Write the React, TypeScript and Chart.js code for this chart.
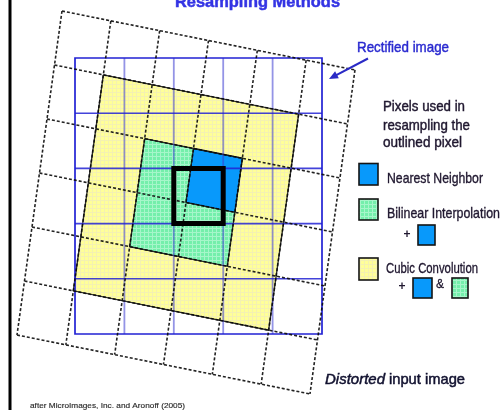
import React, { useEffect, useRef } from "react";
import { Chart, registerables } from "chart.js";

Chart.register(...registerables);

// ---------------- data ----------------
const titleText = "Resampling Methods";
const rectifiedLabel = "Rectified image";
const distortedWord = "Distorted";
const distortedRest = "input image";
const legendHeading = ["Pixels used in", "resampling the", "outlined pixel"];
const methodNames = ["Nearest Neighbor", "Bilinear Interpolation", "Cubic Convolution"];
const creditText = "after MicroImages, Inc. and Aronoff (2005)";

const rectifiedCols = 5;
const rectifiedRows = 5;
const inputCols = 6;
const inputRows = 6;
// cell ranges in the distorted input grid: [col0, row0, col1, row1]
const cubicCells = [1, 1, 5, 5];
const bilinearCells = [2, 2, 4, 4];
const nearestCells = [3, 2, 4, 3];
// outlined output pixel in the rectified grid: [col, row]
const outlinedPixel = [2, 2];

// ---------------- layout ----------------
const W = 501;
const H = 410;
const RX0 = 75;
const RY0 = 58;
const RCW = 49.4;
const RCH = 55.2;
const X_MIN = -RX0 / RCW;
const X_MAX = (W - RX0) / RCW;
const Y_MIN = -RY0 / RCH;
const Y_MAX = (H - RY0) / RCH;
// distorted grid geometry, in rectified-cell units
const D_ORIGIN = [(62 - RX0) / RCW, (11 - RY0) / RCH];
const D_U = [48.83 / RCW, 9.83 / RCH];
const D_V = [-7.5 / RCW, 54 / RCH];

const GAP = { x: NaN, y: NaN };

function dp(i: number, j: number) {
  return {
    x: D_ORIGIN[0] + i * D_U[0] + j * D_V[0],
    y: D_ORIGIN[1] + i * D_U[1] + j * D_V[1],
  };
}

function cellPolygon(c: number[]) {
  return [dp(c[0], c[1]), dp(c[2], c[1]), dp(c[2], c[3]), dp(c[0], c[3]), dp(c[0], c[1])];
}

function makePattern(base: string, line: string) {
  const c = document.createElement("canvas");
  c.width = 4;
  c.height = 4;
  const g = c.getContext("2d")!;
  g.fillStyle = base;
  g.fillRect(0, 0, 4, 4);
  g.fillStyle = line;
  g.fillRect(0, 0, 4, 1);
  g.fillRect(0, 0, 1, 4);
  return g.createPattern(c, "repeat")!;
}

const FONT = '"Liberation Sans", Arial, sans-serif';

function fitText(
  ctx: CanvasRenderingContext2D,
  text: string,
  x: number,
  y: number,
  width: number,
  font: string,
  color: string,
  heavy = 0
) {
  ctx.save();
  ctx.font = font;
  ctx.fillStyle = color;
  ctx.strokeStyle = color;
  ctx.textAlign = "left";
  ctx.textBaseline = "alphabetic";
  const w = ctx.measureText(text).width || 1;
  ctx.translate(x, y);
  ctx.scale(width / w, 1);
  ctx.fillText(text, 0, 0);
  if (heavy > 0) {
    ctx.lineWidth = heavy;
    ctx.strokeText(text, 0, 0);
  }
  ctx.restore();
}

export default function App() {
  const ref = useRef<HTMLCanvasElement | null>(null);

  useEffect(() => {
    const canvas = ref.current;
    if (!canvas) return;

    const blue = "#0899fb";
    const yellowPat = makePattern("#ffff98", "#f4f1b2");
    const greenPat = makePattern("#74efab", "#a6f6ca");

    // rectified grid lines
    const rectV: any[] = [];
    for (let i = 1; i < rectifiedCols; i++) {
      rectV.push({ x: i, y: 0 }, { x: i, y: rectifiedRows }, GAP);
    }
    const rectH: any[] = [];
    for (let j = 1; j < rectifiedRows; j++) {
      rectH.push({ x: 0, y: j }, { x: rectifiedCols, y: j }, GAP);
    }
    const rectBorder = [
      { x: 0, y: 0 },
      { x: rectifiedCols, y: 0 },
      { x: rectifiedCols, y: rectifiedRows },
      { x: 0, y: rectifiedRows },
      { x: 0, y: 0 },
    ];
    // distorted grid lines
    const distLines: any[] = [];
    for (let i = 0; i <= inputCols; i++) distLines.push(dp(i, 0), dp(i, inputRows), GAP);
    for (let j = 0; j <= inputRows; j++) distLines.push(dp(0, j), dp(inputCols, j), GAP);

    const [pc, pr] = outlinedPixel;
    const square = [
      { x: pc, y: pr },
      { x: pc + 1, y: pr },
      { x: pc + 1, y: pr + 1 },
      { x: pc, y: pr + 1 },
      { x: pc, y: pr },
    ];

    const polyBorder = "rgba(20,20,20,0.9)";

    const overlay = {
      id: "overlay",
      beforeDraw(chart: any) {
        const ctx = chart.ctx;
        ctx.save();
        ctx.fillStyle = "#ffffff";
        ctx.fillRect(0, 0, chart.width, chart.height);
        ctx.restore();
      },
      afterDraw(chart: any) {
        const ctx: CanvasRenderingContext2D = chart.ctx;
        // left rule
        ctx.save();
        ctx.fillStyle = "#000";
        ctx.fillRect(8.5, 0, 3, H);
        ctx.restore();

        // title
        fitText(ctx, titleText, 175, 6.5, 165, `bold 17px ${FONT}`, "#3434e4", 0.5);

        // rectified label + arrow
        fitText(ctx, rectifiedLabel, 357, 52, 92, `15px ${FONT}`, "#2a2ad0", 0.45);
        ctx.save();
        ctx.strokeStyle = "#2a2ac6";
        ctx.fillStyle = "#2a2ac6";
        ctx.lineWidth = 2;
        const ax0 = 368, ay0 = 58.5, ax1 = 329, ay1 = 79;
        const ang = Math.atan2(ay1 - ay0, ax1 - ax0);
        ctx.beginPath();
        ctx.moveTo(ax0, ay0);
        ctx.lineTo(ax1 - 5 * Math.cos(ang), ay1 - 5 * Math.sin(ang));
        ctx.stroke();
        ctx.beginPath();
        ctx.moveTo(ax1, ay1);
        ctx.lineTo(ax1 - 9 * Math.cos(ang) + 4 * Math.sin(ang), ay1 - 9 * Math.sin(ang) - 4 * Math.cos(ang));
        ctx.lineTo(ax1 - 9 * Math.cos(ang) - 4 * Math.sin(ang), ay1 - 9 * Math.sin(ang) + 4 * Math.cos(ang));
        ctx.closePath();
        ctx.fill();
        ctx.restore();

        // legend heading
        const dark = "#201830";
        const headBase = [111, 129.5, 147];
        const headW = [82, 87, 79];
        legendHeading.forEach((t, k) =>
          fitText(ctx, t, 383, headBase[k], headW[k], `15px ${FONT}`, dark, 0.45)
        );

        // legend entries
        const labBase = [182.5, 217.5, 273];
        const labX = [387, 387, 386];
        const labW = [96, 113, 92];
        methodNames.forEach((t, k) =>
          fitText(ctx, t, labX[k], labBase[k], labW[k], `15px ${FONT}`, dark, 0.35)
        );

        const swatch = (x: number, y: number, w: number, h: number, fill: any) => {
          ctx.save();
          ctx.fillStyle = fill;
          ctx.fillRect(x, y, w, h);
          ctx.strokeStyle = "#151515";
          ctx.lineWidth = 1.6;
          ctx.strokeRect(x, y, w, h);
          ctx.restore();
        };
        swatch(359, 163.5, 19, 21.5, blue);
        swatch(359, 199, 19, 21, greenPat);
        swatch(418, 225, 17, 20, blue);
        swatch(359, 258, 19, 22, yellowPat);
        swatch(413, 278, 19, 20, blue);
        swatch(452, 278, 16, 20, greenPat);

        ctx.save();
        ctx.fillStyle = dark;
        ctx.font = `bold 12px ${FONT}`;
        ctx.textAlign = "center";
        ctx.textBaseline = "middle";
        ctx.fillText("+", 407, 234.5);
        ctx.fillText("+", 402, 287);
        ctx.restore();
        fitText(ctx, "&", 436, 288, 8, `13px ${FONT}`, dark, 0.3);

        // distorted label
        fitText(ctx, distortedWord, 325, 384, 60, `italic 15px ${FONT}`, "#121230", 0.5);
        fitText(ctx, distortedRest, 389, 384, 76, `15px ${FONT}`, "#121230", 0.5);

        // credit
        fitText(ctx, creditText, 30, 408, 155, `8px ${FONT}`, "#2a2a2a", 0.15);
      },
    };

    const chart = new Chart(canvas, {
      type: "scatter",
      data: {
        datasets: [
          {
            label: "outlined pixel",
            data: square,
            showLine: true,
            borderColor: "#000000",
            borderWidth: 5,
            borderJoinStyle: "miter",
            borderCapStyle: "square",
            pointRadius: 0,
            fill: false,
            order: 1,
          },
          {
            label: "input grid",
            data: distLines,
            showLine: true,
            borderColor: "rgba(10,10,10,0.9)",
            borderWidth: 1.6,
            borderDash: [3, 2],
            pointRadius: 0,
            fill: false,
            spanGaps: false,
            order: 2,
          },
          {
            label: "rectified border",
            data: rectBorder,
            showLine: true,
            borderColor: "#2222d4",
            borderWidth: 1.7,
            borderJoinStyle: "miter",
            borderCapStyle: "square",
            pointRadius: 0,
            fill: false,
            order: 3,
          },
          {
            label: "rectified rows",
            data: rectH,
            showLine: true,
            borderColor: "rgba(34,34,212,0.85)",
            borderWidth: 1.6,
            pointRadius: 0,
            fill: false,
            spanGaps: false,
            order: 4,
          },
          {
            label: "rectified cols",
            data: rectV,
            showLine: true,
            borderColor: "rgba(60,60,210,0.55)",
            borderWidth: 1.8,
            pointRadius: 0,
            fill: false,
            spanGaps: false,
            order: 5,
          },
          {
            label: methodNames[0],
            data: cellPolygon(nearestCells),
            showLine: true,
            backgroundColor: blue,
            borderColor: polyBorder,
            borderWidth: 1.3,
            pointRadius: 0,
            fill: "shape",
            order: 6,
          },
          {
            label: methodNames[1],
            data: cellPolygon(bilinearCells),
            showLine: true,
            backgroundColor: greenPat,
            borderColor: polyBorder,
            borderWidth: 1.3,
            pointRadius: 0,
            fill: "shape",
            order: 7,
          },
          {
            label: methodNames[2],
            data: cellPolygon(cubicCells),
            showLine: true,
            backgroundColor: yellowPat,
            borderColor: polyBorder,
            borderWidth: 1.3,
            pointRadius: 0,
            fill: "shape",
            order: 8,
          },
        ] as any,
      },
      options: {
        animation: false,
        responsive: false,
        devicePixelRatio: 1,
        events: [],
        layout: { padding: 0 },
        plugins: {
          legend: { display: false },
          tooltip: { enabled: false },
          title: { display: false },
        },
        elements: { line: { tension: 0 }, point: { radius: 0 } },
        scales: {
          x: { type: "linear", min: X_MIN, max: X_MAX, display: false },
          y: { type: "linear", min: Y_MIN, max: Y_MAX, reverse: true, display: false },
        },
      } as any,
      plugins: [overlay],
    });

    return () => chart.destroy();
  }, []);

  return (
    <div style={{ position: "absolute", left: 0, top: 0, width: W, height: H, background: "#fff" }}>
      <canvas ref={ref} width={W} height={H} style={{ display: "block", width: W, height: H }} />
    </div>
  );
}
